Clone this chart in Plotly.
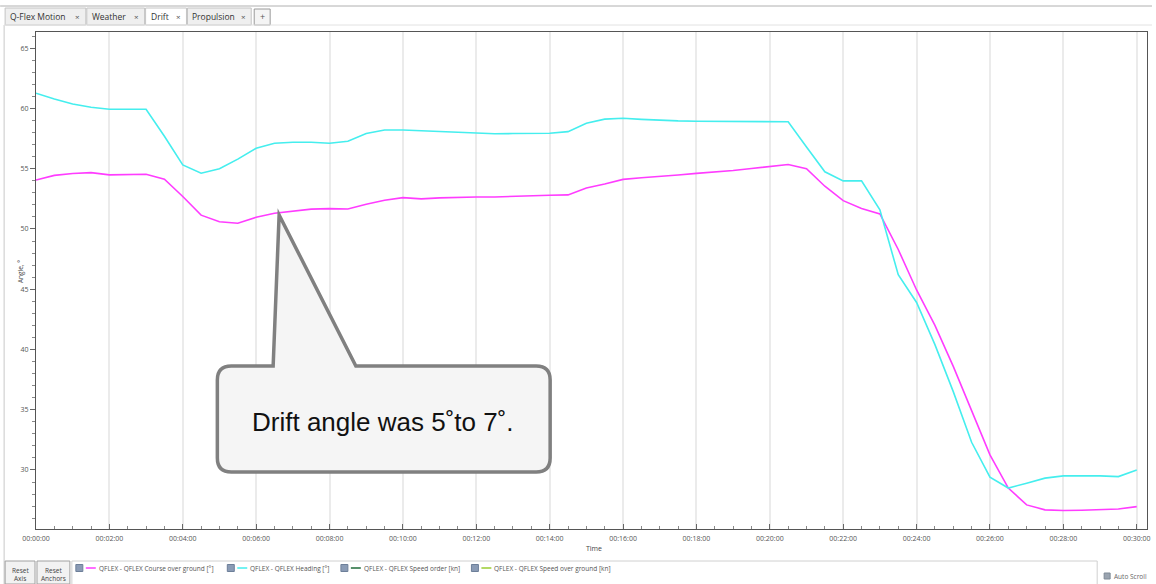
import plotly.graph_objects as go

# ---------------- data ----------------
time_min = [i * 0.5 for i in range(61)]

course_over_ground = [
    54.07, 54.45, 54.60, 54.68, 54.49, 54.52, 54.54, 54.13, 52.70, 51.15,
    50.60, 50.48, 50.97, 51.30, 51.50, 51.65, 51.69, 51.66, 52.05, 52.38,
    52.60, 52.50, 52.58, 52.65, 52.66, 52.66, 52.72, 52.77, 52.80, 52.83,
    53.40, 53.74, 54.12, 54.25, 54.35, 54.48, 54.62, 54.73, 54.86, 55.02,
    55.18, 55.35, 55.00, 53.55, 52.35, 51.70, 51.25, 48.30, 44.94, 42.00,
    38.60, 35.00, 31.25, 28.50, 27.10, 26.69, 26.63, 26.66, 26.69, 26.76,
    26.96,
]

heading = [
    61.27, 60.79, 60.38, 60.10, 59.94, 59.94, 59.94, 57.70, 55.32, 54.63,
    55.00, 55.80, 56.70, 57.12, 57.20, 57.20, 57.12, 57.28, 57.92, 58.22,
    58.22, 58.15, 58.08, 58.00, 57.95, 57.91, 57.92, 57.93, 57.95, 58.08,
    58.78, 59.12, 59.19, 59.10, 59.02, 58.97, 58.94, 58.94, 58.94, 58.94,
    58.94, 58.90, 56.80, 54.75, 53.99, 53.99, 51.60, 46.20, 43.90, 40.40,
    36.50, 32.30, 29.40, 28.50, 28.90, 29.32, 29.51, 29.52, 29.51, 29.45,
    30.00,
]

x_tick_vals = [0, 2, 4, 6, 8, 10, 12, 14, 16, 18, 20, 22, 24, 26, 28, 30]
x_tick_text = ["00:00:00", "00:02:00", "00:04:00", "00:06:00", "00:08:00",
               "00:10:00", "00:12:00", "00:14:00", "00:16:00", "00:18:00",
               "00:20:00", "00:22:00", "00:24:00", "00:26:00", "00:28:00",
               "00:30:00"]
y_tick_vals = [30, 35, 40, 45, 50, 55, 60, 65]

legend_names = ["QFLEX - QFLEX Course over ground [°]",
                "QFLEX - QFLEX Heading [°]",
                "QFLEX - QFLEX Speed order [kn]",
                "QFLEX - QFLEX Speed over ground [kn]"]
legend_colors = ["#ff3cff", "#45eeee", "#1f6b3a", "#9acd32"]

tab_names = ["Q-Flex Motion", "Weather", "Drift", "Propulsion"]
callout_text = "Drift angle was 5˚to 7˚."
y_title = "Angle, °"
x_title = "Time"

# ---------------- layout geometry (pixels) ----------------
W, H = 1156, 584
PL, PR, PT, PB = 36, 1151, 32, 529


def px(x):
    return (x - PL) / (PR - PL)


def py(y):
    return (PB - y) / (PB - PT)


FONT = "Open Sans, Noto Sans, sans-serif"

fig = go.Figure()
fig.add_trace(go.Scatter(x=time_min, y=course_over_ground, mode="lines",
                         name=legend_names[0], line=dict(color=legend_colors[0], width=1.6),
                         showlegend=False))
fig.add_trace(go.Scatter(x=time_min, y=heading, mode="lines",
                         name=legend_names[1], line=dict(color=legend_colors[1], width=1.6),
                         showlegend=False))

shapes = []
annotations = []


def label(x, y, text, size, color, xanchor="center", family=FONT, angle=0):
    annotations.append(dict(xref="paper", yref="paper", x=px(x), y=py(y), text=text,
                            showarrow=False, xanchor=xanchor, yanchor="middle",
                            textangle=angle,
                            font=dict(family=family, size=size, color=color)))


# ---- tab bar ----
shapes.append(dict(type="line", xref="paper", yref="paper", x0=px(0), x1=px(W),
                   y0=py(6), y1=py(6), line=dict(color="#b0b0b0", width=1)))
tab_edges = [(5, 86), (87, 145), (146, 187), (188, 252)]
for (a, b), name in zip(tab_edges, tab_names):
    selected = name == "Drift"
    shapes.append(dict(type="rect", xref="paper", yref="paper", x0=px(a), x1=px(b),
                       y0=py(25), y1=py(8),
                       fillcolor="#ffffff" if selected else "#efefef",
                       line=dict(color="#c4c4c4", width=1), layer="below"))
    label(a + 3, 16.5, name, 8.5, "#333", xanchor="left")
    label(b - 8, 16.5, "×", 8, "#555")
shapes.append(dict(type="rect", xref="paper", yref="paper", x0=px(255), x1=px(271),
                   y0=py(25), y1=py(9), fillcolor="#f4f4f4",
                   line=dict(color="#9a9a9a", width=1)))
label(263, 17, "+", 9, "#555")
# left border of the panel
shapes.append(dict(type="line", xref="paper", yref="paper", x0=px(4), x1=px(4),
                   y0=py(25), y1=py(584), line=dict(color="#c8c8c8", width=1)))
shapes.append(dict(type="line", xref="paper", yref="paper", x0=px(4), x1=px(W),
                   y0=py(25), y1=py(25), line=dict(color="#e2e2e2", width=1)))

# ---- axis titles ----
label(20, 272, y_title, 6.5, "#444", angle=-90)
label(596, 548, x_title, 7, "#444")

# ---- bottom buttons and legend ----
for (a, b), l1, l2 in [((5, 35), "Reset", "Axis"), ((37, 70), "Reset", "Anchors")]:
    shapes.append(dict(type="rect", xref="paper", yref="paper", x0=px(a), x1=px(b),
                       y0=py(584), y1=py(561), fillcolor="#f2f2f2",
                       line=dict(color="#a0a0a0", width=1)))
    label((a + b) / 2, 570, l1, 6.5, "#444")
    label((a + b) / 2, 578.5, l2, 6.5, "#444")
shapes.append(dict(type="rect", xref="paper", yref="paper", x0=px(72), x1=px(1101),
                   y0=py(590), y1=py(561), fillcolor="#ffffff",
                   line=dict(color="#d0d0d0", width=1)))
legend_x = [76, 228, 342, 473]
for lx, name, col in zip(legend_x, legend_names, legend_colors):
    shapes.append(dict(type="rect", xref="paper", yref="paper", x0=px(lx), x1=px(lx + 7),
                       y0=py(571.5), y1=py(564.5), fillcolor="#8a9bb5",
                       line=dict(color="#6d7f99", width=1)))
    shapes.append(dict(type="line", xref="paper", yref="paper", x0=px(lx + 10), x1=px(lx + 20),
                       y0=py(568), y1=py(568), line=dict(color=col, width=1.5)))
    label(lx + 21, 568, name, 6.5, "#555", xanchor="left")
shapes.append(dict(type="rect", xref="paper", yref="paper", x0=px(1108), x1=px(1114),
                   y0=py(579), y1=py(573), fillcolor="#9aa4b0",
                   line=dict(color="#7f8a96", width=1)))
label(1116, 576, "Auto Scroll", 6.5, "#666", xanchor="left")

# ---- callout ----
L, R, T, B, r = 218, 552, 366, 472, 14
tl, ax, ay, tr = 274, 280, 215, 357
path = (f"M {px(tl)},{py(T)} L {px(ax)},{py(ay)} L {px(tr)},{py(T)} "
        f"L {px(R - r)},{py(T)} Q {px(R)},{py(T)} {px(R)},{py(T + r)} "
        f"L {px(R)},{py(B - r)} Q {px(R)},{py(B)} {px(R - r)},{py(B)} "
        f"L {px(L + r)},{py(B)} Q {px(L)},{py(B)} {px(L)},{py(B - r)} "
        f"L {px(L)},{py(T + r)} Q {px(L)},{py(T)} {px(L + r)},{py(T)} Z")
shapes.append(dict(type="path", xref="paper", yref="paper", path=path,
                   fillcolor="#f5f5f5", line=dict(color="#808080", width=3.5)))
label(384, 422, callout_text, 26, "#111", family="Liberation Sans, Arial, sans-serif")

fig.update_layout(
    width=W, height=H,
    margin=dict(l=PL, r=W - PR, t=PT, b=H - PB, pad=0),
    paper_bgcolor="white", plot_bgcolor="white",
    shapes=shapes, annotations=annotations,
    showlegend=False,
    font=dict(family=FONT),
)
fig.update_xaxes(
    range=[0, 30.28], tickvals=x_tick_vals, ticktext=x_tick_text,
    showgrid=True, gridcolor="#ebebeb", gridwidth=1.5,
    zeroline=False, showline=True, linecolor="#555", linewidth=1, mirror=True,
    ticks="inside", ticklen=5, tickcolor="#666", ticklabelstandoff=3,
    minor=dict(dtick=0.5, ticks="inside", ticklen=3, tickcolor="#888", showgrid=False),
    tickfont=dict(size=7, color="#555"),
)
fig.update_yaxes(
    range=[25.1, 66.35], tickvals=y_tick_vals,
    showgrid=False, zeroline=False, showline=True, linecolor="#555", linewidth=1, mirror=True,
    ticks="outside", ticklen=5, tickcolor="#666",
    minor=dict(dtick=1, ticks="outside", ticklen=3, tickcolor="#888", showgrid=False),
    tickfont=dict(size=7, color="#555"),
)

fig.write_html("out.html", config={"displayModeBar": False},
               post_script="document.body.style.margin='0px';document.body.style.overflow='hidden';")
